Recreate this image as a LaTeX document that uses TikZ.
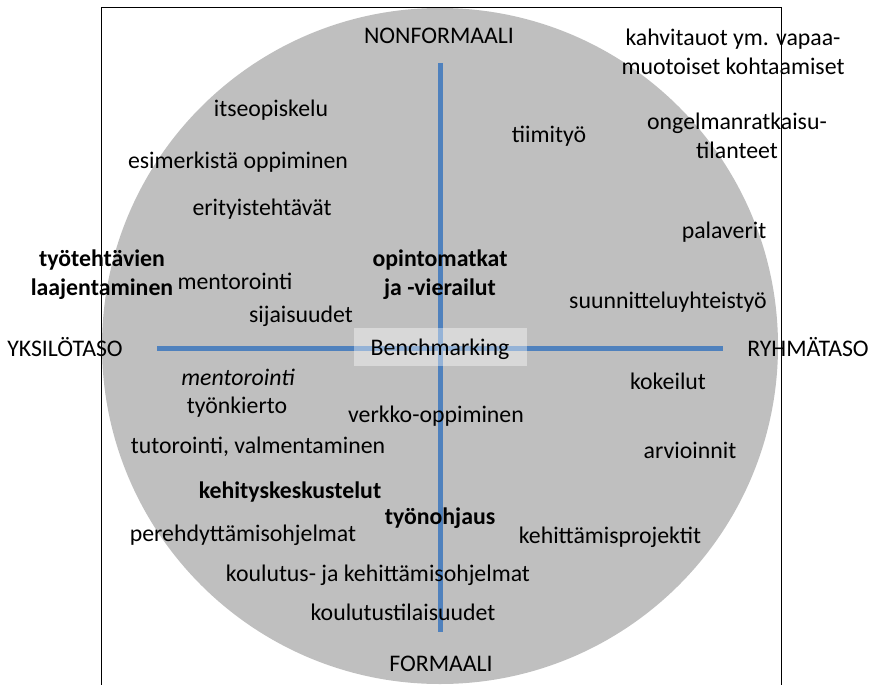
\documentclass[tikz,border=0pt]{standalone}
\usepackage{fontspec}
\setmainfont{Carlito}
\definecolor{axisblue}{HTML}{4F81BD}
\definecolor{discgrey}{HTML}{BFBFBF}
\begin{document}
\begin{tikzpicture}[x=1pt,y=-1pt,
  lbl/.style={font=\fontsize{23.8}{29}\selectfont,inner sep=0pt,align=center,
    text height=0.8em,text depth=0.11em,yshift=-5pt},
  axis/.style={draw=axisblue,line width=5pt}]
			\useasboundingbox (0,0) rectangle (875,685);
			\fill[discgrey] (440,346) circle (338);
			% frame
			\draw[line width=0.8pt] (101,690) -- (101,7) -- (781,7) -- (781,690);
			% axes
			\coordinate (top) at (440,63);
			\coordinate (bottom) at (440,632);
			\coordinate (left) at (157,348);
			\coordinate (right) at (723,348);
			\draw[axis] (top) -- (bottom);
			\draw[axis] (left) -- (right);
			\fill[white,opacity=0.4] (354,328) rectangle (527,366);
			\node[lbl] (bench) at (440,347) {Benchmarking};
			% axis names
			\node[lbl] (nonf) at (439,35) {NONFORMAALI};
			\node[lbl] (form) at (441,663) {FORMAALI};
			\node[lbl] (yksi) at (65,348) {YKSILÖTASO};
			\node[lbl] (ryhma) at (808,348) {RYHMÄTASO};
			% upper left
			\node[lbl] (itse) at (271,108) {itseopiskelu};
			\node[lbl] (esim) at (238,160) {esimerkistä oppiminen};
			\node[lbl] (erit) at (262,207) {erityistehtävät};
			\node[lbl,font=\fontsize{23.8}{29}\selectfont\bfseries] (laaj) at (102,287) {työtehtävien\\laajentaminen};
			\node[lbl] (ment) at (235,281) {mentorointi};
			\node[lbl] (sija) at (301,314) {sijaisuudet};
			\node[lbl,font=\fontsize{23.8}{29}\selectfont\bfseries] (opin) at (440,287) {opintomatkat\\ja -vierailut};
			% upper right
			\node[lbl] (kahvi) at (733,66) {kahvitauot ym. vapaa-\\muotoiset kohtaamiset};
			\node[lbl] (tiimi) at (549,134) {tiimityö};
			\node[lbl] (ongel) at (737,150) {ongelmanratkaisu-\\tilanteet};
			\node[lbl] (pala) at (724,230) {palaverit};
			\node[lbl] (suun) at (668,300) {suunnitteluyhteistyö};
			% lower left
			\node[lbl,font=\fontsize{23.8}{29}\selectfont\itshape] (mentit) at (238,377) {mentorointi};
			\node[lbl] (kierto) at (237,405) {työnkierto};
			\node[lbl] (verkko) at (436,414) {verkko-oppiminen};
			\node[lbl] (tutor) at (258,445) {tutorointi, valmentaminen};
			\node[lbl,font=\fontsize{23.8}{29}\selectfont\bfseries] (kesk) at (290,490) {kehityskeskustelut};
			\node[lbl,font=\fontsize{23.8}{29}\selectfont\bfseries] (ohjaus) at (440,516) {työnohjaus};
			\node[lbl] (pere) at (243,533) {perehdyttämisohjelmat};
			\node[lbl] (koul) at (378,573) {koulutus- ja kehittämisohjelmat};
			\node[lbl] (tilai) at (403,612) {koulutustilaisuudet};
			% lower right
			\node[lbl] (kokei) at (668,381) {kokeilut};
			\node[lbl] (arvi) at (690,450) {arvioinnit};
			\node[lbl] (proj) at (610,535) {kehittämisprojektit};
\end{tikzpicture}
\end{document}
